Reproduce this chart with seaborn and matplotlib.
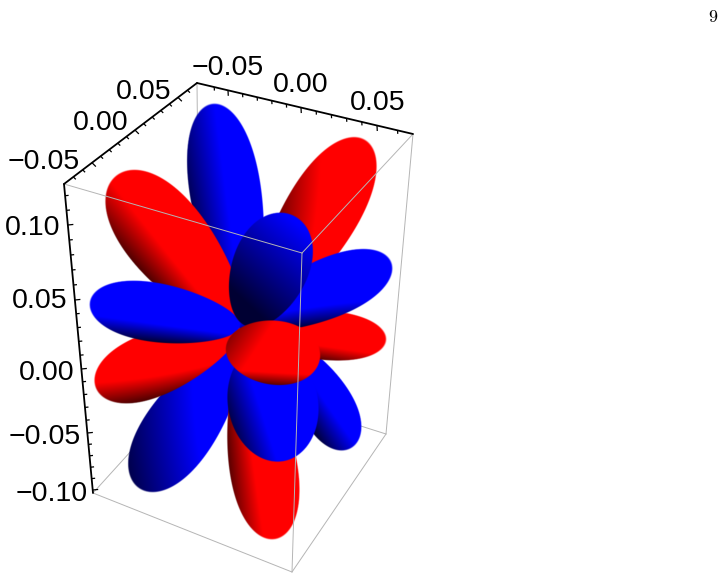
import numpy as np
import matplotlib
matplotlib.use("Agg")
import matplotlib.pyplot as plt
import seaborn as sns

# all positions below are read off the reference, in image pixels
# lobes are listed back to front
lobe_color = ["red", "blue", "red", "red", "blue", "blue", "red", "red", "blue", "blue", "blue", "red", "blue", "red"]
lobe_tip_x = [222, 212, 365, 116, 351, 139, 386, 96, 391, 90, 292, 275, 284, 320]
lobe_tip_y = [408, 104, 140, 176, 448, 488, 340, 388, 262, 302, 215, 539, 461, 358]
lobe_base_x = [240, 244, 256, 240, 292, 240, 232, 238, 238, 240, 246, 246, 262, 226]
lobe_base_y = [340, 312, 322, 328, 345, 342, 328, 330, 326, 326, 326, 360, 345, 347]
lobe_width = [30, 70, 72, 80, 52, 70, 48, 62, 58, 58, 76, 66, 90, 64]
lobe_taper = [0, 0.2, 0.25, 0.25, 0.25, 0.25, 0.25, 0.25, 0.25, 0.2, 0.12, 0.25, 0, 0.05]
lobe_shade_dir = [0, 5, 20, 35, 40, 30, 80, 80, 80, 80, 55, 10, 20, -25]
lobe_shade_base = [1.0, 1.0, 0.95, 1.2, 1.0, 0.95, 1.5, 1.5, 1.5, 1.5, 0.54, 1.25, 1.3, 1.25]
lobe_shade_gain = [0.8, 0.65, 0.75, 0.9, 0.85, 0.65, 1.2, 1.2, 1.3, 1.3, 0.5, 0.9, 1.0, 0.7]
lobe_rim = [0, 0, 0, 0, 0, 0, 0, 0, 0, 0, 0, 0, 0, 0.65]

# box corners
corner_a = (64, 184)
corner_b = (197, 83)
corner_c = (413, 134)
corner_d = (302, 253)
corner_e = (93, 493)
corner_f = (292, 572)
corner_g = (386, 434)
corner_h = (200, 375)

# tick values and where the labelled ones sit along each edge
tick_values_x = np.arange(-6, 7) / 100
tick_anchor_x = [-0.0725, -0.05, 0.0, 0.05, 0.0675]
tick_anchor_x_px = [197, 228, 301, 377, 413]

tick_values_y = np.arange(-7, 7) / 100
tick_anchor_y = [-0.08, -0.05, 0.0, 0.05, 0.07]
tick_anchor_y_px = [64, 92, 135, 178, 197]

tick_values_z = np.arange(-10, 13) / 100
tick_anchor_z = [-0.104, -0.10, -0.05, 0.0, 0.05, 0.10, 0.128]
tick_anchor_z_px = [493, 490, 433, 369, 300, 225, 184]

major_ticks = [-0.10, -0.05, 0.0, 0.05, 0.10]

# tick labels
label_text = ["\u22120.05", "0.00", "0.05", "0.05", "0.00", "\u22120.05",
              "0.10", "0.05", "0.00", "\u22120.05", "\u22120.10"]
label_x = [228, 301, 378, 144, 101, 44, 33, 40, 47, 45, 52]
label_y = [68, 85, 103, 92, 123, 162, 228, 301, 373, 437, 494]

WIDTH, HEIGHT = 724, 579
BASE_RGB = {"red": np.array([1.0, 0, 0]), "blue": np.array([0, 0, 1.0])}

sns.set_theme(style="white")
plt.rcParams["font.family"] = ["Liberation Sans", "DejaVu Sans"]

fig = plt.figure(figsize=(WIDTH / 100, HEIGHT / 100), dpi=100)
ax = fig.add_axes([0, 0, 1, 1])
ax.axis("off")

# sampling grid for the shaded lobes, twice the output size
gx, gy = np.meshgrid(np.arange(0.25, WIDTH, 0.5), np.arange(0.25, HEIGHT, 0.5))


def draw_lobe(i, zorder):
    tip = np.array([lobe_tip_x[i], lobe_tip_y[i]], dtype=float)
    base = np.array([lobe_base_x[i], lobe_base_y[i]], dtype=float)
    mid = (tip + base) / 2
    half_len = np.linalg.norm(tip - base) / 2
    half_wid = lobe_width[i] / 2
    axis_u = (tip - mid) / half_len
    axis_v = np.array([-axis_u[1], axis_u[0]])

    u = ((gx - mid[0]) * axis_u[0] + (gy - mid[1]) * axis_u[1]) / half_len
    v = ((gx - mid[0]) * axis_v[0] + (gy - mid[1]) * axis_v[1]) / half_wid
    # lobes get fatter towards the tip
    v = v / (1 + lobe_taper[i] * np.clip(u, -1, 1))
    r = np.sqrt(u**2 + v**2)

    # normal of the ellipsoid seen from the front, lit from one side
    nx = u * axis_u[0] + v * axis_v[0]
    ny = u * axis_u[1] + v * axis_v[1]
    angle = np.deg2rad(lobe_shade_dir[i])
    lit = nx * np.cos(angle) - ny * np.sin(angle)
    shade = np.clip(lobe_shade_base[i] + lobe_shade_gain[i] * lit, 0.2, 1.0)
    # dark band along the lower edge only
    if lobe_rim[i] > 0:
        shade = shade * (1 - lobe_rim[i] * np.clip((ny - 0.62) / 0.38, 0, 1))

    rgba = np.zeros(gx.shape + (4,))
    rgba[..., :3] = shade[..., None] * BASE_RGB[lobe_color[i]]
    rgba[..., 3] = np.clip((1 - r) * min(half_len, half_wid) * 2 + 0.5, 0, 1)
    ax.imshow(rgba, extent=(0, WIDTH, HEIGHT, 0), aspect="auto", zorder=zorder,
              interpolation="bilinear")


def draw_edge(p, q, color, lw, zorder):
    sns.lineplot(x=[p[0], q[0]], y=[p[1], q[1]], color=color, lw=lw, sort=False,
                 estimator=None, ax=ax, zorder=zorder)


def draw_ticks(values, anchors, anchor_px, p, q, use_y, direction):
    for val in values:
        pos = np.interp(val, anchors, anchor_px)
        t = (pos - p[use_y]) / (q[use_y] - p[use_y])
        x0 = p[0] + t * (q[0] - p[0])
        y0 = p[1] + t * (q[1] - p[1])
        size = 5.5 if np.isclose(major_ticks, val).any() else 3.5
        ax.plot([x0, x0 + direction[0] * size], [y0, y0 + direction[1] * size],
                color="black", lw=0.9, zorder=30, solid_capstyle="butt")


GRAY = "#b5b5b5"
# hidden edges go behind the lobes
draw_edge(corner_b, corner_h, GRAY, 0.7, 1)
draw_edge(corner_e, corner_h, GRAY, 0.7, 1)
draw_edge(corner_g, corner_h, GRAY, 0.7, 1)

for i in range(len(lobe_color)):
    draw_lobe(i, 5 + i)

# front edges go over them
draw_edge(corner_a, corner_d, GRAY, 0.7, 25)
draw_edge(corner_c, corner_d, GRAY, 0.7, 25)
draw_edge(corner_d, corner_f, GRAY, 0.7, 25)
draw_edge(corner_e, corner_f, GRAY, 0.7, 25)
draw_edge(corner_f, corner_g, GRAY, 0.7, 25)
draw_edge(corner_c, corner_g, GRAY, 0.7, 25)

# framed axes
draw_edge(corner_a, corner_b, "black", 1.3, 30)
draw_edge(corner_b, corner_c, "black", 1.3, 30)
draw_edge(corner_a, corner_e, "black", 1.3, 30)

draw_ticks(tick_values_x, tick_anchor_x, tick_anchor_x_px, corner_b, corner_c, 0, (0.05, 1))
draw_ticks(tick_values_y, tick_anchor_y, tick_anchor_y_px, corner_a, corner_b, 0, (0.7, 0.7))
draw_ticks(tick_values_z, tick_anchor_z, tick_anchor_z_px, corner_a, corner_e, 1, (1, -0.1))

for txt, x, y in zip(label_text, label_x, label_y):
    ax.text(x, y, txt, fontsize=20.5, ha="center", va="center", color="black", zorder=40)

# page number
ax.text(713, 18, "$9$", fontsize=13, ha="center", va="center", math_fontfamily="cm",
        color="black")

ax.set_xlim(0, WIDTH)
ax.set_ylim(HEIGHT, 0)
fig.savefig("out.png", dpi=100)
plt.close(fig)
